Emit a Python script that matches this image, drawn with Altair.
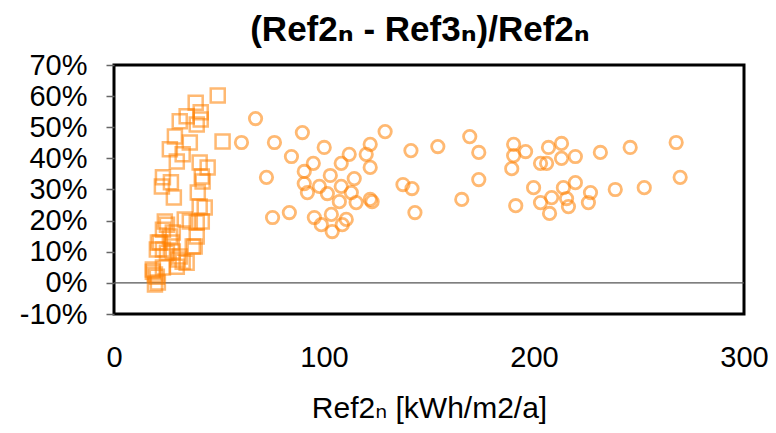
import altair as alt
import pandas as pd

# Series 1: squares
sq_x = [49.4, 38.9, 41.3, 34.6, 31.3, 41.3, 39.4, 29.0, 36.1, 51.7, 26.6, 32.7, 29.9, 40.8,
        44.6, 41.8, 23.3, 27.1, 42.2, 39.9, 28.5, 40.8, 43.2, 33.7, 39.4, 25.2, 28.0, 39.4,
        20.9, 37.5, 31.3, 25.2, 34.6, 18.5, 20.9, 19.5, 23.3, 27.5, 29.9,
        22.8, 36.1, 41.8, 24.2, 23.3, 26.6, 21.8, 38.4, 20.4, 28.0, 32.7, 18.5, 20.4, 19.5,
        23.3, 30.4]
sq_y = [60.2, 57.9, 54.8, 53.5, 51.9, 52.5, 50.9, 47.0, 45.1, 45.4, 42.9, 41.3, 39.0, 38.7,
        37.1, 34.2, 33.9, 32.3, 32.6, 29.0, 27.4, 24.5, 24.2, 20.4, 19.4, 18.7, 16.2, 14.9,
        13.0, 11.7, 8.5, 9.7, 6.5, 4.3, 0.1, 2.7, 10.7, 13.0, 5.2,
        31.0, 19.7, 19.7, 19.7, 17.1, 14.9, 13.0, 11.7, 10.7, 10.1, 6.8, 3.6, 2.0, -0.5,
        4.9, 7.5]

# Series 2: circles
ci_x = [67.4, 60.7, 76.4, 89.7, 129.1, 84.5, 100.1, 112.0, 122.0, 120.1, 94.9, 90.6, 108.2,
        122.0, 72.6, 103.0, 114.4, 90.6, 97.8, 108.2, 92.1, 101.6, 113.0, 115.3, 122.0, 122.9,
        107.3, 137.6, 141.9, 141.4, 154.2, 169.4, 173.7, 173.7, 165.6, 143.3, 75.5, 83.5, 95.4,
        98.7, 103.5, 103.9, 108.7, 110.6, 190.3, 190.3, 196.0, 189.4, 206.9, 213.1, 203.1,
        206.0, 213.1, 219.7, 231.6, 245.8, 267.7, 199.8, 214.0, 219.7, 226.9, 238.7, 252.5,
        269.6, 191.3, 203.1, 208.4, 215.5, 216.4, 225.9, 207.4]
ci_y = [52.8, 45.1, 45.1, 48.3, 48.6, 40.6, 43.5, 41.3, 44.5, 41.3, 38.4, 35.8, 38.4,
        37.1, 33.9, 34.5, 33.5, 31.9, 31.0, 31.0, 29.0, 28.7, 29.0, 25.8, 26.8, 26.1,
        26.1, 31.6, 30.3, 42.5, 43.8, 47.0, 41.9, 33.2, 26.8, 22.6, 21.0, 22.6, 21.0,
        18.7, 22.0, 16.5, 18.7, 20.4, 44.5, 40.9, 42.2, 36.7, 43.5, 44.8, 38.4,
        38.4, 40.0, 40.6, 41.9, 43.5, 45.1, 30.6, 30.6, 32.2, 29.0, 30.0, 30.6,
        33.9, 24.8, 25.8, 27.4, 27.1, 24.5, 25.8, 22.3]

y_ticks = [-0.1, 0.0, 0.1, 0.2, 0.3, 0.4, 0.5, 0.6, 0.7]
x_ticks = [0, 100, 200, 300]

sq = pd.DataFrame({"x": sq_x, "y": [v / 100 for v in sq_y]})
ci = pd.DataFrame({"x": ci_x, "y": [v / 100 for v in ci_y]})
zero = pd.DataFrame({"y": [0.0]})

FONT = "Liberation Sans, Arial, DejaVu Sans"
ORANGE = "#FF8000"

xs = alt.X("x:Q", scale=alt.Scale(domain=[0, 300], nice=False),
           axis=alt.Axis(values=x_ticks, title="Ref2ₙ [kWh/m2/a]", grid=False, domain=False,
                         ticks=False, tickSize=0, labelPadding=29, labelFontSize=29,
                         labelFlush=False, labelOverlap=False,
                         titleFontSize=30, titleFontWeight="normal", titlePadding=21,
                         labelFont=FONT, titleFont=FONT, labelColor="black", titleColor="black"))
ys = alt.Y("y:Q", scale=alt.Scale(domain=[-0.1, 0.7], nice=False),
           axis=alt.Axis(values=y_ticks, title=None, grid=False, domain=False,
                         labelExpr="replace(format(datum.value, '.0%'), '\u2212', '-')",
                         labelOverlap=False, labelFlush=False, labelBound=False,
                         tickSize=8, tickColor="#666666", tickWidth=1.5, labelPadding=19,
                         labelFontSize=29, labelFont=FONT, labelColor="black"))

rule = alt.Chart(zero).mark_rule(color="#555555", strokeWidth=1.3).encode(y=ys)

squares = alt.Chart(sq).mark_point(shape="square", filled=False, size=196, strokeWidth=2.5,
                                   color=ORANGE, opacity=0.55).encode(x=xs, y=ys)
circles = alt.Chart(ci).mark_point(shape="circle", filled=False, size=154, strokeWidth=2.8,
                                   color=ORANGE, opacity=0.55).encode(x=xs, y=ys)

chart = alt.layer(rule, squares, circles).properties(
    width=630, height=249,
    title=alt.TitleParams(text="(Ref2ₙ - Ref3ₙ)/Ref2ₙ", fontSize=35, fontWeight="bold",
                          font=FONT, anchor="middle", dx=-9, dy=43, offset=18,
                          baseline="alphabetic", color="black"),
    autosize=alt.AutoSizeParams(type="none"),
    padding={"left": 106, "top": 57, "right": 24, "bottom": 111},
    background="white",
).configure_view(stroke="black", strokeWidth=3)

chart.save("out.html", embed_options={"renderer": "svg", "actions": False})
